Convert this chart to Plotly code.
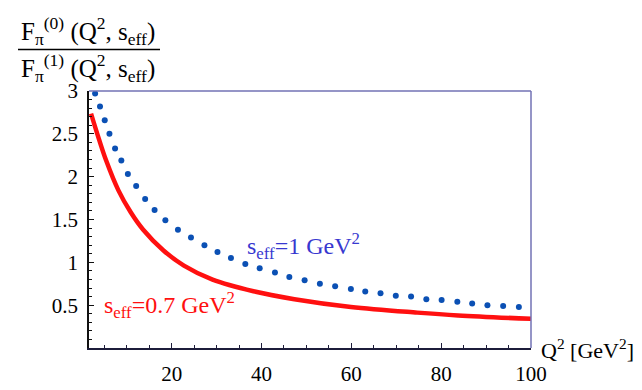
import plotly.graph_objects as go

# Red solid curve: s_eff = 0.7 GeV^2
q2_red = [2.05, 3.78, 5.42, 8.15, 10.89, 13.62, 18.18, 22.73, 29.11, 38.22, 47.33, 59.91, 74.67, 83.78, 100.0]
ratio_red = [2.737, 2.444, 2.188, 1.840, 1.584, 1.383, 1.138, 0.962, 0.798, 0.662, 0.570, 0.479, 0.413, 0.380, 0.340]

# Blue dotted curve: s_eff = 1 GeV^2 (dot positions)
q2_blue = [2.96, 4.05, 5.1, 6.15, 7.4, 8.8, 10.25, 12.1, 14.1, 16.2, 18.6, 21.4, 24.3, 27.3,
           30.2, 33.2, 36.4, 39.6, 43.0, 46.2, 49.6, 53.0, 56.4, 59.9, 63.1, 66.5, 69.9, 73.3,
           76.7, 80.1, 83.6, 86.9, 90.3, 93.8, 97.3]
ratio_blue = [2.97, 2.82, 2.66, 2.50, 2.33, 2.19, 2.03, 1.89, 1.74, 1.61, 1.49, 1.38, 1.29, 1.20,
              1.12, 1.05, 0.98, 0.93, 0.88, 0.83, 0.79, 0.75, 0.72, 0.69, 0.66, 0.64, 0.61, 0.60,
              0.57, 0.56, 0.54, 0.52, 0.50, 0.49, 0.48]

x_ticks = [20, 40, 60, 80, 100]
y_ticks = [0.5, 1, 1.5, 2, 2.5, 3]
y_tick_text = ["0.5", "1", "1.5", "2", "2.5", "3"]

W, H = 642, 390
L, R, T, B = 81, 119, 83, 35
PW, PH = W - L - R, H - T - B

def px(x):
    return (x - L) / PW

def py(y):
    return (H - B - y) / PH

FONT = "Times New Roman"
RED = "#ff1010"
BLUE_DOT = "#0b50b4"
BLUE_TXT = "#3838d0"

fig = go.Figure()
fig.add_trace(go.Scatter(x=q2_red, y=ratio_red, mode="lines",
                         line=dict(color=RED, width=4.5, shape="spline", smoothing=1.0),
                         hoverinfo="skip", showlegend=False))
fig.add_trace(go.Scatter(x=q2_blue, y=ratio_blue, mode="markers",
                         marker=dict(color=BLUE_DOT, size=6, line=dict(width=0)),
                         hoverinfo="skip", showlegend=False))

tickfont = dict(family=FONT, size=21, color="black")

fig.update_layout(
    width=W, height=H,
    margin=dict(l=L, r=R, t=T, b=B, pad=0),
    paper_bgcolor="white", plot_bgcolor="white",
    font=dict(family=FONT, size=21, color="black"),
    xaxis=dict(range=[1.6, 100], showgrid=False, zeroline=False,
               showline=True, linecolor="#1c1c3a", linewidth=1.5,
               ticks="inside", ticklen=5, tickcolor="#1c1c3a", tickwidth=1,
               tickmode="array", tickvals=x_ticks, ticktext=[str(v) for v in x_ticks],
               tickfont=tickfont, ticklabelstandoff=6,
               minor=dict(dtick=5, tick0=0, ticks="inside", ticklen=3, tickcolor="#1c1c3a", showgrid=False)),
    yaxis=dict(range=[0, 3], showgrid=False, zeroline=False,
               showline=True, linecolor="#111111", linewidth=1.5,
               ticks="inside", ticklen=5, tickcolor="#111111", tickwidth=1,
               tickmode="array", tickvals=y_ticks, ticktext=y_tick_text,
               tickfont=tickfont, ticklabelstandoff=5,
               minor=dict(dtick=0.1, tick0=0, ticks="inside", ticklen=3, tickcolor="#111111", showgrid=False)),
)

# Top and right frame lines
fig.add_shape(type="line", xref="paper", yref="paper", x0=0, y0=1, x1=1, y1=1,
              line=dict(color="#7272b4", width=1.5))
fig.add_shape(type="line", xref="paper", yref="paper", x0=1, y0=0, x1=1, y1=1,
              line=dict(color="#7272b4", width=1.5))

# Fraction title
fig.add_annotation(text="F<sub>π</sub><sup>(0)</sup> (Q<sup>2</sup>, s<sub>eff</sub>)",
                   xref="paper", yref="paper", x=px(80), y=py(19), xanchor="center", yanchor="middle",
                   showarrow=False, font=dict(family=FONT, size=25, color="black"))
fig.add_annotation(text="F<sub>π</sub><sup>(1)</sup> (Q<sup>2</sup>, s<sub>eff</sub>)",
                   xref="paper", yref="paper", x=px(80), y=py(59), xanchor="center", yanchor="middle",
                   showarrow=False, font=dict(family=FONT, size=25, color="black"))
fig.add_shape(type="line", xref="paper", yref="paper", x0=px(10), y0=py(39), x1=px(152), y1=py(39),
              line=dict(color="black", width=1.5))

# X axis label
fig.add_annotation(text="Q<sup>2</sup> [GeV<sup>2</sup>]", xref="paper", yref="paper",
                   x=px(531), y=py(356), xanchor="left", yanchor="middle",
                   showarrow=False, font=dict(family=FONT, size=22, color="black"))

# Curve labels
fig.add_annotation(text="s<sub>eff</sub>=1 GeV<sup>2</sup>", xref="paper", yref="paper",
                   x=px(237), y=py(247), xanchor="left", yanchor="middle",
                   showarrow=False, font=dict(family=FONT, size=24, color=BLUE_TXT))
fig.add_annotation(text="s<sub>eff</sub>=0.7 GeV<sup>2</sup>", xref="paper", yref="paper",
                   x=px(94), y=py(310), xanchor="left", yanchor="middle",
                   showarrow=False, font=dict(family=FONT, size=24, color=RED))

fig.write_html("out.html")
